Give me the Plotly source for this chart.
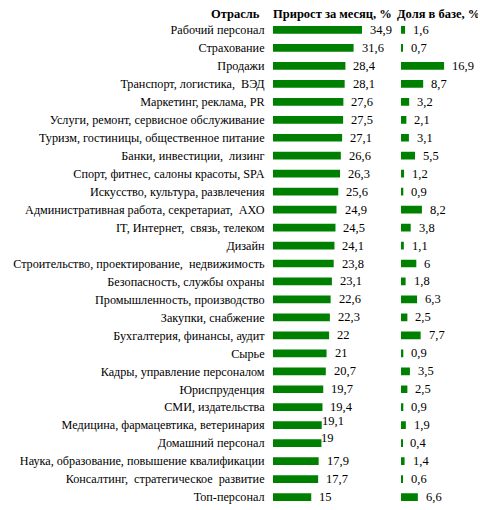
import plotly.graph_objects as go

INDUSTRIES = [
    'Рабочий персонал', 'Страхование', 'Продажи', 'Транспорт, логистика,  ВЭД',
    'Маркетинг, реклама, PR', 'Услуги, ремонт, сервисное обслуживание',
    'Туризм, гостиницы, общественное питание', 'Банки, инвестиции,  лизинг',
    'Спорт, фитнес, салоны красоты, SPA', 'Искусство, культура, развлечения',
    'Административная работа, секретариат,  АХО', 'IT, Интернет,  связь, телеком',
    'Дизайн', 'Строительство, проектирование,  недвижимость',
    'Безопасность, службы охраны', 'Промышленность, производство',
    'Закупки, снабжение', 'Бухгалтерия, финансы, аудит', 'Сырье',
    'Кадры, управление персоналом', 'Юриспруденция', 'СМИ, издательства',
    'Медицина, фармацевтика, ветеринария', 'Домашний персонал',
    'Наука, образование, повышение квалификации',
    'Консалтинг,  стратегическое  развитие', 'Топ-персонал',
]
GROWTH = [34.9, 31.6, 28.4, 28.1, 27.6, 27.5, 27.1, 26.6, 26.3, 25.6, 24.9, 24.5, 24.1,
          23.8, 23.1, 22.6, 22.3, 22, 21, 20.7, 19.7, 19.4, 19.1, 19, 17.9, 17.7, 15]
SHARE = [1.6, 0.7, 16.9, 8.7, 3.2, 2.1, 3.1, 5.5, 1.2, 0.9, 8.2, 3.8, 1.1,
         6, 1.8, 6.3, 2.5, 7.7, 0.9, 3.5, 2.5, 0.9, 1.9, 0.4, 1.4, 0.6, 6.6]

FONT = 'Liberation Serif'
GREEN = '#008000'

# a couple of growth labels sit oddly in the original (pixel nudges: x, y)
GROWTH_NUDGE = {
    'Медицина, фармацевтика, ветеринария': (-2, 4),
    'Домашний персонал': (-2, 5),
}


def fmt(v):
    return f'{v:g}'.replace('.', ',')


fig = go.Figure()
for values, xa in [(GROWTH, 'x'), (SHARE, 'x2')]:
    fig.add_trace(go.Bar(
        x=values, y=INDUSTRIES, orientation='h', xaxis=xa, yaxis='y',
        marker=dict(color=GREEN, line=dict(width=0)), width=0.43,
        showlegend=False, hoverinfo='x+y',
    ))
    for v, name in zip(values, INDUSTRIES):
        dx, dy = (6, 0)
        if xa == 'x' and name in GROWTH_NUDGE:
            dx, dy = GROWTH_NUDGE[name]
        fig.add_annotation(
            text=fmt(v), x=v, y=name, xref=xa, yref='y',
            xanchor='left', yanchor='middle', xshift=dx, yshift=dy, showarrow=False,
            font=dict(family=FONT, size=12.5, color='black'),
        )

headers = [
    ('Отрасль', 0.531, 'right'),
    ('Прирост за месяц, %', 0.678, 'center'),
    ('Доля в базе, %', 0.900, 'center'),
]
for text, x, anchor in headers:
    fig.add_annotation(
        text=f'<b>{text}</b>', x=x, y=1.0, xref='paper', yref='paper',
        xanchor=anchor, yanchor='bottom', yshift=-2, showarrow=False,
        font=dict(family=FONT, size=12.5, color='black'),
    )

# the page adds an 8px body margin, so the figure is 8px smaller than the window
fig.update_layout(
    width=478, height=502,
    margin=dict(l=0, r=0, t=13, b=4),
    paper_bgcolor='white', plot_bgcolor='white',
    xaxis=dict(domain=[0.5544, 0.7678], range=[0, 40], visible=False, fixedrange=True),
    xaxis2=dict(domain=[0.8222, 0.9822], range=[0, 30], visible=False, fixedrange=True),
    yaxis=dict(
        range=[len(INDUSTRIES) - 0.5, -0.5], showgrid=False, zeroline=False, showline=False,
        ticks='outside', ticklen=5, tickcolor='rgba(0,0,0,0)',
        tickfont=dict(family=FONT, size=12.2, color='black'),
        automargin=False, fixedrange=True,
    ),
)

fig.write_html('out.html')
